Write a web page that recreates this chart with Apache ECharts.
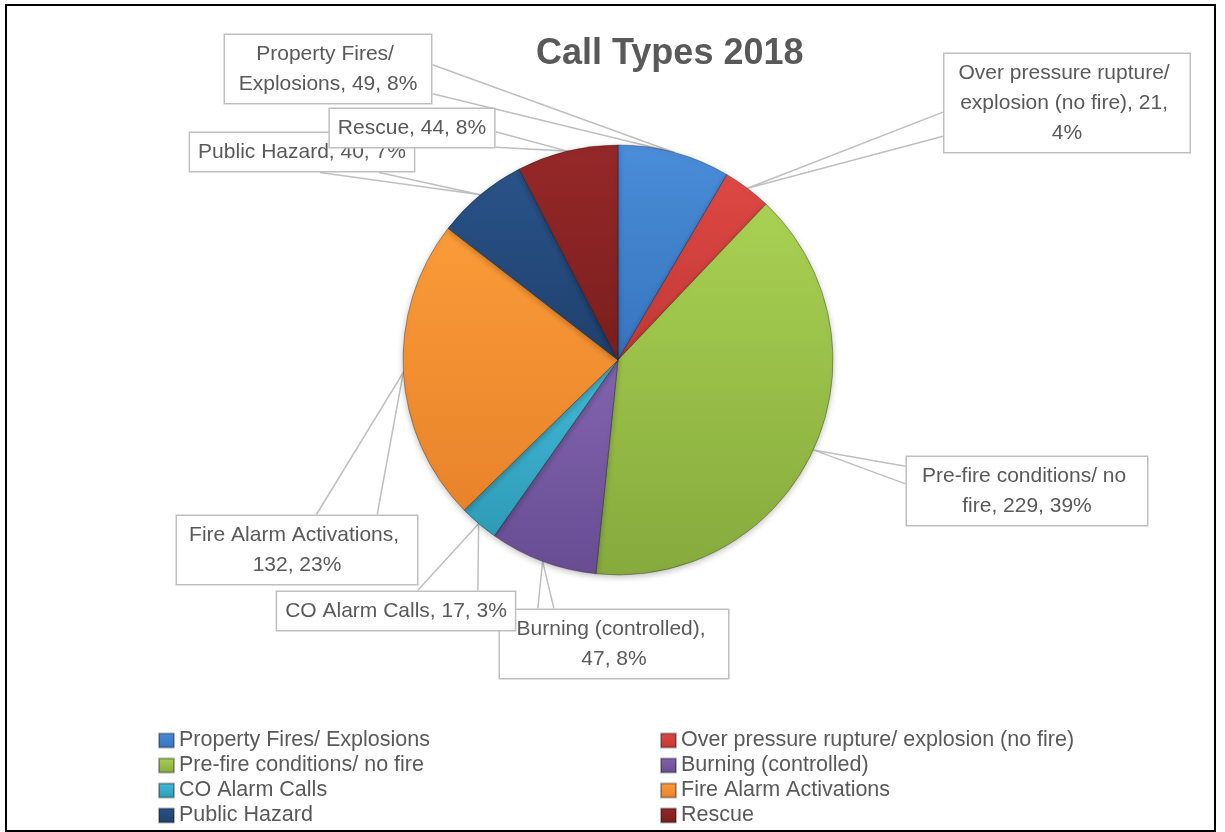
<!DOCTYPE html>
<html>
<head>
<meta charset="utf-8">
<script src="https://cdn.jsdelivr.net/npm/echarts@6/dist/echarts.min.js"></script>
<style>
html,body{margin:0;padding:0;background:#fff;}
#chart{width:1225px;height:832px;}
</style>
</head>
<body>
<div id="chart"></div>
<script>
// ---- data ----
const categories = [
  'Property Fires/ Explosions',
  'Over pressure rupture/ explosion (no fire)',
  'Pre-fire conditions/ no fire',
  'Burning (controlled)',
  'CO Alarm Calls',
  'Fire Alarm Activations',
  'Public Hazard',
  'Rescue'
];
const values = [49, 21, 229, 47, 17, 132, 40, 44];
const titleText = 'Call Types 2018';

// ---- styles / layout ----
const colorsTop    = ['#4A8DD8', '#DE4844', '#A9D152', '#8264AE', '#44B9D6', '#FB9B38', '#2A5389', '#962828'];
const colorsBottom = ['#3774BF', '#C23935', '#86AA3D', '#684D93', '#2E9BB8', '#E8832A', '#1E406D', '#7A1E1E'];
const labelCenters = [[328,69],[1067,103],[1027,491],[614,644],[396,611],[297,550],[302,152],[412,128]];
const labelWidths  = [190, 229, 224, 212, null, 224, null, null];
const wedgeSide    = ['right','left','left','top','top','top','bottom','right'];
const wedgeFrac    = [[0.44,0.85],[0.59,0.83],[0.15,0.40],[0.17,0.24],[0.59,0.84],[0.58,0.83],[0.58,0.84],[0.59,0.97]];

const PIE_CENTER = [618, 360];
const PIE_RADIUS = 215;

function grad(i){
  return new echarts.graphic.LinearGradient(0,0,0,1,[
    {offset:0,color:colorsTop[i]},{offset:1,color:colorsBottom[i]}
  ]);
}

const seriesData = categories.map((name, i) => {
  const item = {
    name: name,
    value: values[i],
    itemStyle: {color: grad(i)}
  };
  if (labelWidths[i]) {
    item.label = {width: labelWidths[i], overflow: 'break'};
  }
  return item;
});

const chart = echarts.init(document.getElementById('chart'), null, {renderer:'canvas'});

const legendText = {color:'#595959', fontSize:21.5, fontFamily:'Liberation Sans', lineHeight:25};

chart.setOption({
  animation: false,
  backgroundColor: '#ffffff',
  title: {
    text: titleText,
    left: 536, top: 36, padding: 0,
    textStyle: {fontFamily:'Liberation Sans', fontWeight:'bold', fontSize:36, color:'#595959'}
  },
  graphic: [{
    type:'rect', silent:true, z:100,
    shape:{x:6, y:5, width:1209, height:826},
    style:{fill:'none', stroke:'#000', lineWidth:2}
  }],
  legend: [{
    orient:'vertical', left:158, top:728, padding:0, itemGap:0,
    itemWidth:15, itemHeight:14, icon:'rect',
    selectedMode:false,
    data: categories.filter((c,i)=>i%2===0),
    textStyle: legendText
  },{
    orient:'vertical', left:660, top:728, padding:0, itemGap:0,
    itemWidth:15, itemHeight:14, icon:'rect',
    selectedMode:false,
    data: categories.filter((c,i)=>i%2===1),
    textStyle: legendText
  }],
  series: [{
    type:'pie',
    center: PIE_CENTER,
    radius: PIE_RADIUS,
    startAngle: 90,
    clockwise: true,
    percentPrecision: 0,
    avoidLabelOverlap: false,
    itemStyle: {borderColor:'rgba(0,0,0,0.3)', borderWidth:1, shadowBlur:6, shadowColor:'rgba(0,0,0,0.25)', shadowOffsetY:2},
    label: {
      show:true, position:'outside',
      formatter:'{b}, {c}, {d}%',
      fontFamily:'Liberation Sans', fontSize:21, lineHeight:30,
      color:'#595959', align:'center',
      backgroundColor:'#ffffff', borderColor:'#BFBFBF', borderWidth:1.5,
      padding:[4,8]
    },
    labelLine: {show:true, lineStyle:{color:'#BFBFBF', width:1.5}},
    emphasis: {disabled:true},
    labelLayout: function(params){
      const i = params.dataIndex;
      const c = labelCenters[i];
      const w = params.labelRect.width, h = params.labelRect.height;
      const L = c[0]-w/2, T = c[1]-h/2, R = c[0]+w/2, B = c[1]+h/2;
      let anchor = params.labelLinePoints && params.labelLinePoints[0];
      const f = wedgeFrac[i];
      let a, b;
      switch (wedgeSide[i]) {
        case 'right':  a=[R, T+f[0]*h]; b=[R, T+f[1]*h]; break;
        case 'left':   a=[L, T+f[0]*h]; b=[L, T+f[1]*h]; break;
        case 'top':    a=[L+f[0]*w, T]; b=[L+f[1]*w, T]; break;
        default:       a=[L+f[0]*w, B]; b=[L+f[1]*w, B];
      }
      const out = {x:c[0], y:c[1], align:'center', verticalAlign:'middle'};
      if (anchor) out.labelLinePoints = [a, [anchor[0],anchor[1]], b];
      return out;
    },
    data: seriesData
  }]
});
</script>
</body>
</html>
